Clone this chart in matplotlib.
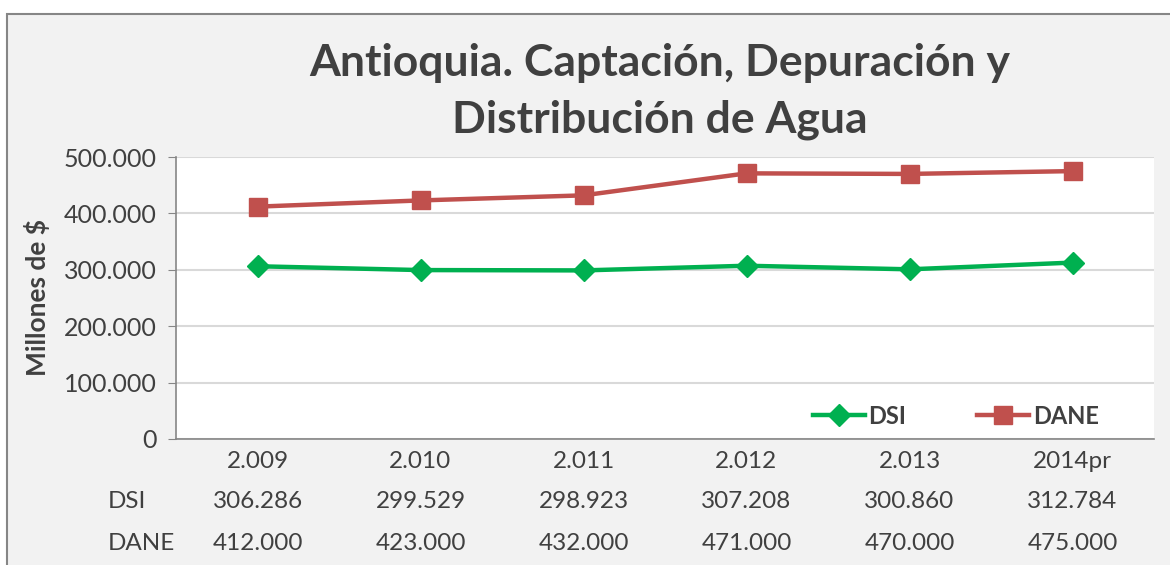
# Antioquia - Captación, Depuración y Distribución de Agua
import matplotlib
matplotlib.use("Agg")
import matplotlib.pyplot as plt
import matplotlib.transforms as mtransforms
from matplotlib.patches import Rectangle

# Datos
years = ["2.009", "2.010", "2.011", "2.012", "2.013", "2014pr"]
dsi = [306286, 299529, 298923, 307208, 300860, 312784]
dane = [412000, 423000, 432000, 471000, 470000, 475000]
dsi_labels = ["306.286", "299.529", "298.923", "307.208", "300.860", "312.784"]
dane_labels = ["412.000", "423.000", "432.000", "471.000", "470.000", "475.000"]
yticks = [0, 100000, 200000, 300000, 400000, 500000]
ytick_labels = ["0", "100.000", "200.000", "300.000", "400.000", "500.000"]

plt.rcParams['font.family'] = ['Lato', 'DejaVu Sans']
text_color = "#404040"
W, H = 1170, 565

fig = plt.figure(figsize=(W / 100, H / 100), dpi=100, facecolor="white")

# marco gris del gráfico
fig.patches.append(Rectangle((7 / W, -0.1), 1.2, (H - 14) / H + 0.1,
                             transform=fig.transFigure, facecolor="#f2f2f2",
                             edgecolor="#868686", linewidth=1.5, zorder=-5))

ax = fig.add_axes([176 / W, 1 - 439 / H, (1154 - 176) / W, (439 - 157) / H])
ax.set_facecolor("white")

x = list(range(len(years)))
ax.plot(x, dsi, color="#00b050", lw=3.2, marker="D", markersize=11, label="DSI", zorder=3)
ax.plot(x, dane, color="#c0504d", lw=3.2, marker="s", markersize=13, label="DANE", zorder=3)

ax.set_xlim(-0.5, len(years) - 0.5)
ax.set_ylim(0, 500000)
ax.set_yticks(yticks)
ax.set_yticklabels(ytick_labels, fontsize=18, color=text_color)
ax.set_xticks([])
ax.grid(axis="y", color="#d9d9d9", lw=1.5)
ax.set_axisbelow(True)
for s in ["top", "right"]:
    ax.spines[s].set_visible(False)
ax.spines["left"].set_color("#868686")
ax.spines["bottom"].set_color("#868686")
ax.spines["left"].set_linewidth(1.2)
ax.spines["bottom"].set_linewidth(1.2)
ax.tick_params(axis="y", length=6, color="#868686", pad=8)

ax.set_ylabel("Millones de $", fontsize=19, fontweight="bold", color=text_color, labelpad=10)

fig.text(660 / W, 1 - 92 / H, "Antioquia. Captación, Depuración y\nDistribución de Agua",
         ha="center", va="center", fontsize=32, fontweight="bold", color=text_color,
         linespacing=1.5)

leg = ax.legend(loc="lower right", bbox_to_anchor=(0.965, -0.035), ncol=2, frameon=False,
                prop={"size": 17, "weight": "bold"}, handlelength=2.2, columnspacing=3.0,
                handletextpad=0.15)
for t in leg.get_texts():
    t.set_color(text_color)

# tabla de datos bajo el eje
trans = mtransforms.blended_transform_factory(ax.transData, fig.transFigure)
for i in x:
    ax.text(i, 1 - 461 / H, years[i], transform=trans, ha="center", va="center",
            fontsize=17.5, color=text_color)
    ax.text(i, 1 - 501 / H, dsi_labels[i], transform=trans, ha="center", va="center",
            fontsize=17.5, color=text_color)
    ax.text(i, 1 - 543 / H, dane_labels[i], transform=trans, ha="center", va="center",
            fontsize=17.5, color=text_color)
fig.text(108 / W, 1 - 501 / H, "DSI", ha="left", va="center", fontsize=17.5, color=text_color)
fig.text(108 / W, 1 - 543 / H, "DANE", ha="left", va="center", fontsize=17.5, color=text_color)

fig.savefig("out.png", dpi=100, facecolor=fig.get_facecolor())
